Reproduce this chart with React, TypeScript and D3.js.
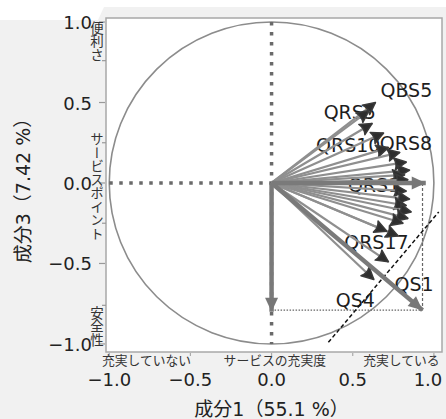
import * as d3 from 'd3';

// loadings of the questionnaire items (component 1 / component 3)
const itemNames = [
  'QBS5', 'QRS5', 'q3', 'q4', 'QRS10', 'QRS8', 'q7', 'q8', 'q9', 'QRS1',
  'q11', 'q12', 'q13', 'q14', 'q15', 'q16', 'QRS17', 'q18', 'q19', 'QS4',
];
const comp1 = [
  0.64, 0.60, 0.62, 0.69, 0.72, 0.79, 0.83, 0.85, 0.82, 0.84,
  0.83, 0.85, 0.83, 0.86, 0.84, 0.81, 0.78, 0.71, 0.72, 0.63,
];
const comp3 = [
  0.50, 0.45, 0.37, 0.31, 0.22, 0.19, 0.13, 0.08, 0.05, 0.02,
  -0.05, -0.10, -0.14, -0.18, -0.22, -0.25, -0.33, -0.30, -0.49, -0.60,
];

// highlighted (thick) vectors
const boldNames = ['axis1', 'QS1', 'axis3'];
const boldComp1 = [0.95, 0.93, 0];
const boldComp3 = [0, -0.79, -0.8];

// black dashed guide line
const guideX = [0.35, 1.03];
const guideY = [-0.99, -0.18];

const xTicks = [-1, -0.5, 0, 0.5, 1];
const yTicks = [-1, -0.5, 0, 0.5, 1];
const xTitle = '成分1（55.1 %）';
const yTitle = '成分3（7.42 %）';
const xRegions = ['充実していない', 'サービスの充実度', '充実している'];
const xRegionPos = [-0.77, 0.02, 0.8];
const yRegions = ['便利さ', 'サービスポイント', '安全性'];
const yRegionPos = [0.88, -0.02, -0.89];
const yRegionMarks = [0.76, 0.25, -0.25, -0.76];

// label placement: [dx, dy, anchor]
const labelPlace: Record<string, [number, number, string]> = {
  QBS5: [5, -6, 'start'],
  QRS5: [7, 8, 'end'],
  QRS10: [-8, 4, 'end'],
  QRS8: [-20, -2, 'start'],
  QRS1: [-60, 12, 'start'],
  QRS17: [-54, 13, 'start'],
  QS1: [6, 29, 'start'],
  QS4: [-38, 27, 'start'],
};

const W = 446;
const H = 419;
const font = '"DejaVu Sans", "Noto Sans CJK JP", sans-serif';
const jpFont = '"Noto Sans CJK JP", sans-serif';

export default function App() {
  const x = d3.scaleLinear().domain([-1.02, 1.05]).range([106, 442]);
  const y = d3.scaleLinear().domain([-1.05, 1.025]).range([352, 18]);
  const x0 = x(0);
  const y0 = y(0);

  const items = itemNames.map((n, i) => ({ name: n, c1: comp1[i], c3: comp3[i] }));
  const bold = boldNames.map((n, i) => ({ name: n, c1: boldComp1[i], c3: boldComp3[i] }));
  const qs1 = bold[1];

  const bg = d3.path();
  bg.moveTo(0, 20);
  bg.lineTo(98, 20);
  bg.lineTo(104, 7);
  bg.lineTo(W, 7);
  bg.lineTo(W, H);
  bg.lineTo(0, H);
  bg.closePath();

  return (
    <svg width={W} height={H} style={{ position: 'absolute', left: 0, top: 0, background: '#fff' }}>
      <defs>
        <marker id="thin" markerUnits="userSpaceOnUse" markerWidth="16" markerHeight="16"
          viewBox="-14 -7 16 14" refX="0" refY="0" orient="auto">
          <path d="M0,0 L-12,-6 Q-9,0 -12,6 Z" fill="#2e2e2e" stroke="#3a3a3a" strokeWidth="1.5" strokeLinejoin="round" />
        </marker>
        <marker id="thick" markerUnits="userSpaceOnUse" markerWidth="18" markerHeight="16"
          viewBox="-16 -7 18 14" refX="0" refY="0" orient="auto">
          <path d="M0,0 L-14,-6.5 L-14,6.5 Z" fill="#777" />
        </marker>
      </defs>
      <path d={bg.toString()} fill="#f1f1f1" />
      <rect x={x.range()[0]} y={y.range()[1]} width={x.range()[1] - x.range()[0]}
        height={y.range()[0] - y.range()[1]} fill="#fff" stroke="#a8a8a8" strokeWidth={1.5} />

      {/* unit circle */}
      <ellipse cx={x0} cy={y0} rx={x(1) - x0} ry={y0 - y(1)} fill="none" stroke="#8c8c8c" strokeWidth={1.6} />

      {/* dotted reference axes */}
      <line x1={x0} x2={x0} y1={y(1)} y2={y(-1)} stroke="#6a6a6a" strokeWidth={3.5} strokeDasharray="3.5 6.5" />
      <line x1={x(-1)} x2={x0} y1={y0} y2={y0} stroke="#6a6a6a" strokeWidth={3.5} strokeDasharray="3.5 6.5" />

      {/* projection lines of QS1 */}
      <line x1={x0} x2={x(qs1.c1)} y1={y(qs1.c3)} y2={y(qs1.c3)} stroke="#666" strokeWidth={1.2} strokeDasharray="1.5 1.5" />
      <line x1={x(qs1.c1)} x2={x(qs1.c1)} y1={y0} y2={y(qs1.c3)} stroke="#666" strokeWidth={1.2} strokeDasharray="3 2" />

      {/* labels (drawn under the arrows) */}
      {items.filter((d) => labelPlace[d.name]).map((d) => {
        const [dx, dy, anchor] = labelPlace[d.name];
        return (
          <text key={d.name} x={x(d.c1) + dx} y={y(d.c3) + dy} textAnchor={anchor}
            fontFamily={font} fontSize={19} fill="#1e1e1e">{d.name}</text>
        );
      })}
      {(() => {
        const [dx, dy, anchor] = labelPlace.QS1;
        return (
          <text x={x(0.72) + dx} y={y(-0.49) + dy} textAnchor={anchor}
            fontFamily={font} fontSize={19} fill="#1e1e1e">QS1</text>
        );
      })()}

      {/* item vectors */}
      {items.map((d) => (
        <line key={d.name} x1={x0} y1={y0} x2={x(d.c1)} y2={y(d.c3)} stroke="#8f8f8f"
          strokeWidth={2.2} markerEnd="url(#thin)" />
      ))}

      {/* guide line */}
      <line x1={x(guideX[0])} y1={y(guideY[0])} x2={x(guideX[1])} y2={y(guideY[1])}
        stroke="#111" strokeWidth={1.5} strokeDasharray="4 2.5" />

      {/* thick vectors */}
      {bold.map((d) => (
        <line key={d.name} x1={x0} y1={y0} x2={x(d.c1)} y2={y(d.c3)} stroke="#7a7a7a"
          strokeWidth={4.5} markerEnd="url(#thick)" />
      ))}

      {/* y axis */}
      {yTicks.map((t) => (
        <g key={t}>
          <line x1={99} x2={105} y1={y(t)} y2={y(t)} stroke="#999" strokeWidth={1.2} />
          <text x={92} y={y(t) + 7} textAnchor="end" fontFamily={font} fontSize={18} fill="#222">
            {d3.format('.1f')(t)}
          </text>
        </g>
      ))}
      {yRegionMarks.map((t) => (
        <line key={t} x1={102} x2={106} y1={y(t)} y2={y(t)} stroke="#999" strokeWidth={1.2} />
      ))}
      {yRegions.map((s, i) => (
        <text key={s} x={97} y={y(yRegionPos[i])} textAnchor="middle" fontFamily={jpFont}
          fontSize={13.5} fill="#333" style={{ writingMode: 'vertical-rl' }}>{s}</text>
      ))}
      <text transform={`translate(30,${y0 + 3}) rotate(-90)`} textAnchor="middle"
        fontFamily={font} fontSize={19} fill="#222">{yTitle}</text>

      {/* x axis */}
      {xTicks.map((t) => (
        <g key={t}>
          <line x1={x(t)} x2={x(t)} y1={353} y2={356} stroke="#aaa" strokeWidth={1.2} />
          <text x={Math.min(x(t), 428)} y={386} textAnchor="middle" fontFamily={font} fontSize={18} fill="#222">
            {d3.format('.1f')(t)}
          </text>
        </g>
      ))}
      {xRegions.map((s, i) => (
        <text key={s} x={x(xRegionPos[i])} y={365} textAnchor="middle" fontFamily={jpFont}
          fontSize={12.8} fill="#333">{s}</text>
      ))}
      <text x={x0} y={416} textAnchor="middle" fontFamily={font} fontSize={19} fill="#222">{xTitle}</text>
    </svg>
  );
}
